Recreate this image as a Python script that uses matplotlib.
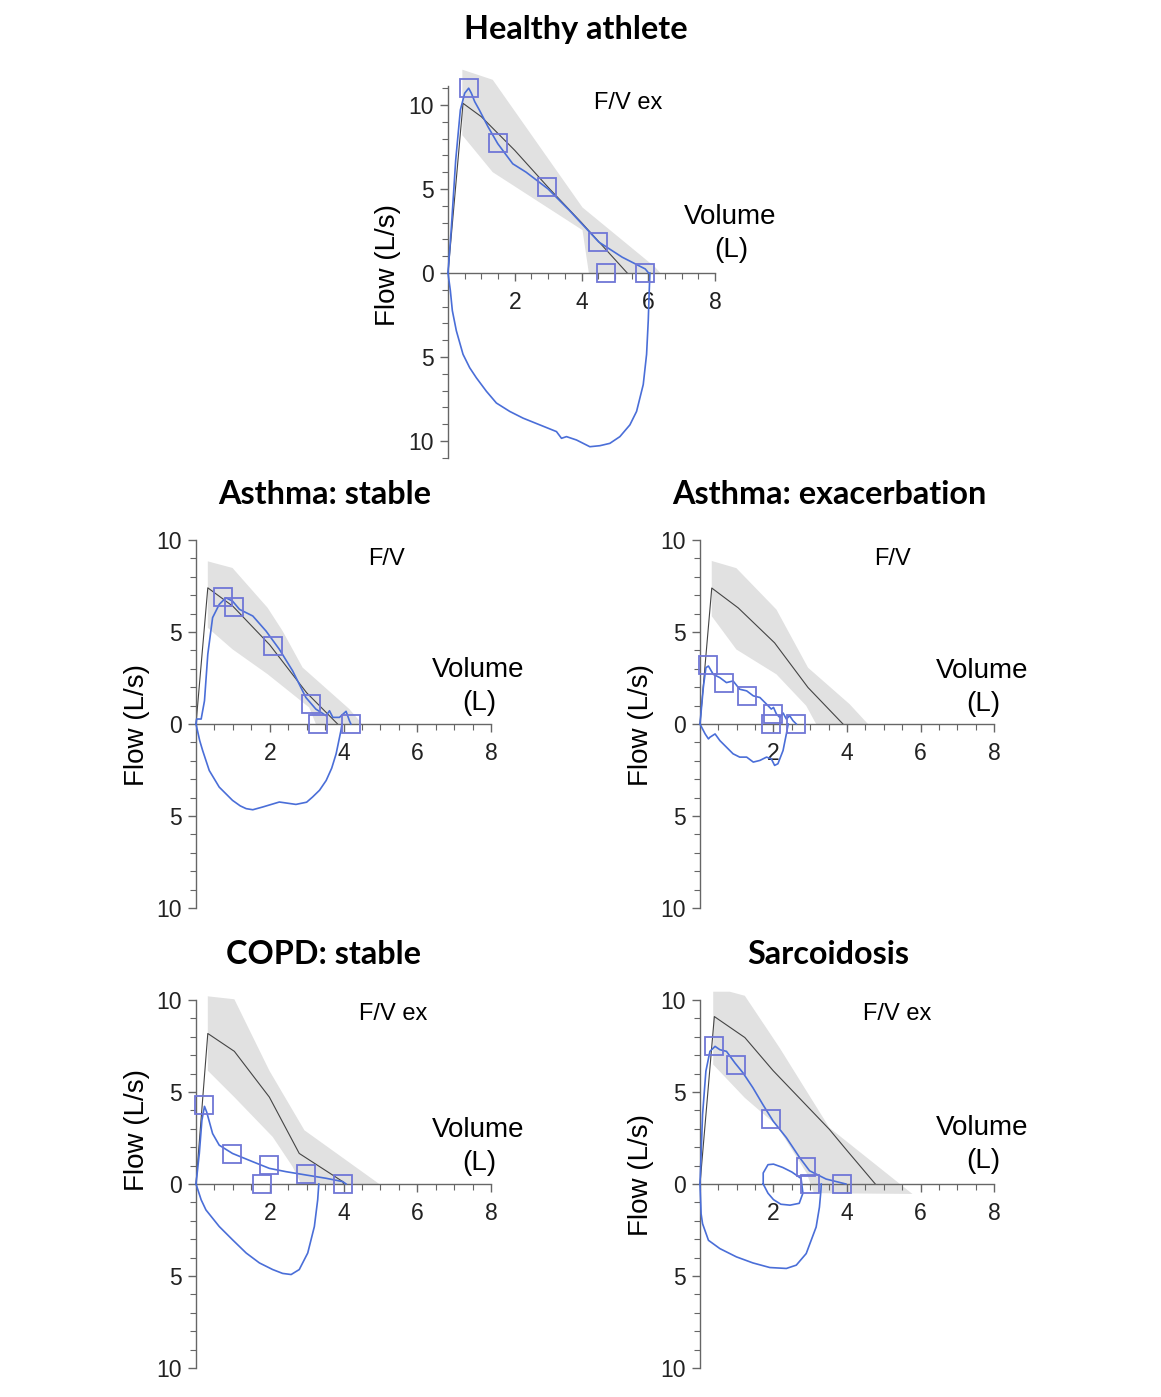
import matplotlib
matplotlib.use("Agg")
import matplotlib.pyplot as plt
from matplotlib.ticker import FixedLocator, MultipleLocator, FuncFormatter

W, H = 1161, 1397

# ---------------- DATA ----------------
titles = ["Healthy athlete", "Asthma: stable", "Asthma: exacerbation", "COPD: stable", "Sarcoidosis"]
notes = ["F/V ex", "F/V", "F/V", "F/V ex", "F/V ex"]
x_ticks = [2, 4, 6, 8]
y_ticks = [-10, -5, 0, 5, 10]

# Healthy athlete
p1_pred_v = [0, 0.45, 1.0, 1.5, 2.0, 3.0, 4.0, 4.5, 5.37]
p1_pred_f = [0, 10.1, 9.3, 8.3, 7.3, 5.1, 3.0, 1.9, 0]
p1_band_up_v = [0.43, 0.43, 1.34, 4.03, 6.21, 6.36]
p1_band_up_f = [8.2, 12.1, 11.5, 3.9, 0.34, 0]
p1_band_lo_v = [0.43, 1.34, 4.03, 4.22]
p1_band_lo_f = [8.2, 6.0, 2.55, 0]
p1_exp_v = [0, 0.1, 0.23, 0.37, 0.5, 0.62, 0.7, 0.8, 0.94, 1.2, 1.49, 1.94, 2.34, 3.0, 3.63, 4.52, 5.22, 5.91, 6.01]
p1_exp_f = [0, 2.7, 6.7, 9.7, 10.7, 11.0, 10.7, 10.2, 9.7, 8.7, 7.7, 6.5, 6.0, 5.0, 3.74, 1.84, 0.94, 0.24, 0]
p1_insp_v = [0, 0.07, 0.13, 0.25, 0.45, 0.65, 0.85, 1.15, 1.45, 1.85, 2.25, 2.75, 3.25, 3.4, 3.55, 3.85, 4.25, 4.55, 4.85, 5.15, 5.45, 5.65, 5.85, 5.95, 6.0, 6.03, 6.05]
p1_insp_f = [0, -1.04, -2.24, -3.44, -4.84, -5.64, -6.24, -7.04, -7.74, -8.24, -8.64, -9.04, -9.44, -9.84, -9.74, -9.94, -10.34, -10.28, -10.14, -9.74, -9.04, -8.24, -6.64, -4.84, -2.84, -1.04, 0]
p1_sq_v = [0.62, 1.49, 2.98, 4.5, 4.72, 5.91]
p1_sq_f = [11.04, 7.74, 5.1, 1.84, 0, 0]

# Asthma: stable
p2_pred_v = [0, 0.32, 1.0, 2.0, 3.0, 3.84]
p2_pred_f = [0, 7.4, 6.4, 4.3, 1.7, 0]
p2_band_up_v = [0.32, 0.32, 0.99, 1.94, 2.35, 2.89, 4.16, 4.43, 4.5]
p2_band_up_f = [5.23, 8.84, 8.48, 6.32, 5.05, 3.07, 0.81, 0.18, 0]
p2_band_lo_v = [0.32, 0.99, 1.94, 3.07, 3.25]
p2_band_lo_f = [5.23, 4.06, 2.71, 0.9, 0]
p2_exp_v = [0, 0.02, 0.14, 0.23, 0.32, 0.45, 0.63, 0.81, 0.99, 1.18, 1.54, 1.9, 2.26, 2.62, 2.98, 3.25, 3.53, 3.62, 3.71, 3.89, 4.07, 4.16, 4.2]
p2_exp_f = [0, 0.27, 0.27, 1.26, 3.79, 5.78, 6.5, 6.86, 6.68, 6.23, 5.87, 5.05, 4.06, 2.89, 1.44, 0.81, 0.45, 0.72, 0.36, 0.36, 0.69, 0.18, 0]
p2_insp_v = [0, 0.1, 0.18, 0.36, 0.63, 0.99, 1.2, 1.36, 1.54, 1.81, 2.26, 2.71, 3.0, 3.16, 3.35, 3.53, 3.68, 3.8, 3.93, 3.96]
p2_insp_f = [0, -0.9, -1.44, -2.53, -3.43, -4.15, -4.45, -4.6, -4.66, -4.51, -4.24, -4.37, -4.25, -3.97, -3.6, -3.07, -2.4, -1.62, -0.36, 0]
p2_sq_v = [0.74, 1.02, 2.08, 3.12, 3.3, 4.19]
p2_sq_f = [6.9, 6.35, 4.24, 1.08, 0, 0]

# Asthma: exacerbation
p3_pred_v = [0, 0.32, 1.04, 2.03, 2.94, 3.89]
p3_pred_f = [0, 7.39, 6.31, 4.41, 1.98, 0]
p3_band_up_v = [0.32, 0.32, 0.99, 2.08, 2.94, 4.07, 4.57]
p3_band_up_f = [5.86, 8.86, 8.47, 6.22, 3.06, 1.08, 0]
p3_band_lo_v = [0.32, 0.99, 2.08, 2.89, 3.16]
p3_band_lo_f = [5.86, 4.05, 2.7, 0.99, 0]
p3_exp_v = [0, 0.09, 0.16, 0.23, 0.36, 0.54, 0.72, 0.9, 1.08, 1.27, 1.45, 1.63, 1.81, 1.94, 2.0, 2.08, 2.17, 2.26, 2.35, 2.44, 2.53, 2.62]
p3_exp_f = [0, 1.98, 3.06, 3.15, 2.7, 2.52, 2.25, 2.34, 1.89, 1.8, 1.53, 1.44, 1.08, 0.81, 0.9, 0.54, 0.36, 0.6, 0.27, 0.45, 0.18, 0]
p3_insp_v = [0, 0.14, 0.23, 0.27, 0.41, 0.54, 0.72, 0.9, 1.08, 1.27, 1.45, 1.63, 1.81, 1.94, 2.03, 2.12, 2.26, 2.35, 2.4]
p3_insp_f = [0, -0.54, -0.81, -0.72, -0.54, -0.9, -1.26, -1.62, -1.8, -1.8, -2.07, -1.98, -1.8, -1.89, -2.25, -2.16, -1.44, -0.54, 0]
p3_sq_v = [0.23, 0.65, 1.28, 1.99, 1.94, 2.6]
p3_sq_f = [3.2, 2.25, 1.53, 0.54, 0, 0]

# COPD: stable
p4_pred_v = [0, 0.32, 1.04, 1.99, 2.8, 3.98, 4.0]
p4_pred_f = [0, 8.18, 7.21, 4.72, 1.66, 0.13, 0]
p4_band_up_v = [0.32, 0.32, 1.04, 1.99, 2.94, 4.97]
p4_band_up_f = [6.16, 10.2, 10.04, 6.16, 2.92, 0]
p4_band_lo_v = [0.32, 1.04, 2.08, 2.62, 2.85]
p4_band_lo_f = [6.16, 4.72, 2.56, 0.94, 0]
p4_exp_v = [0, 0.09, 0.16, 0.23, 0.29, 0.45, 0.63, 0.99, 1.54, 1.99, 2.44, 2.98, 3.53, 3.98, 4.07]
p4_exp_f = [0, 1.66, 3.46, 4.22, 3.91, 2.74, 2.11, 1.66, 1.21, 0.85, 0.67, 0.49, 0.31, 0.13, 0]
p4_insp_v = [0, 0.14, 0.27, 0.63, 0.99, 1.36, 1.72, 2.08, 2.35, 2.58, 2.8, 3.03, 3.21, 3.3, 3.33]
p4_insp_f = [0, -0.86, -1.41, -2.31, -3.03, -3.75, -4.29, -4.65, -4.86, -4.92, -4.65, -3.75, -2.31, -0.86, 0]
p4_sq_v = [0.23, 0.98, 1.99, 1.78, 2.98, 3.98]
p4_sq_f = [4.27, 1.62, 1.03, 0, 0.52, 0]

# Sarcoidosis
p5_pred_v = [0, 0.39, 1.22, 1.99, 3.52, 3.97, 4.77]
p5_pred_f = [0, 9.1, 7.96, 6.16, 2.97, 1.89, 0]
p5_band_up_v = [0.36, 0.36, 0.81, 1.22, 2.17, 3.52, 5.78]
p5_band_up_f = [6.49, 10.45, 10.45, 10.23, 7.39, 3.06, -0.54]
p5_band_lo_v = [0.36, 1.22, 2.08, 2.9, 3.1, 5.78]
p5_band_lo_f = [6.49, 4.68, 3.2, 0.6, -0.5, -0.54]
p5_exp_v = [0, 0.07, 0.16, 0.27, 0.41, 0.54, 0.72, 0.95, 1.17, 1.44, 1.71, 1.99, 2.35, 2.71, 2.98, 3.43, 3.79, 3.97]
p5_exp_f = [0, 3.78, 6.13, 7.21, 7.48, 7.3, 7.21, 6.58, 6.04, 5.23, 4.32, 3.42, 2.52, 1.44, 0.72, 0.27, 0.09, 0]
p5_insp_v = [0, 0.03, 0.07, 0.23, 0.54, 0.99, 1.44, 1.9, 2.35, 2.62, 2.89, 3.16, 3.25, 3.29, 3.3]
p5_insp_f = [0, -1.62, -2.16, -3.06, -3.51, -3.96, -4.29, -4.54, -4.59, -4.41, -3.78, -2.34, -1.26, -0.36, 0]
p5_loop_v = [1.72, 1.72, 1.85, 2.0, 2.25, 2.5, 2.75, 2.8, 2.7, 2.45, 2.2, 2.0, 1.85, 1.72]
p5_loop_f = [0.0, 0.6, 1.05, 1.08, 0.9, 0.65, 0.3, -0.5, -1.05, -1.15, -1.1, -0.85, -0.5, 0.0]
p5_sq_v = [0.39, 0.97, 1.94, 2.89, 3.0, 3.86]
p5_sq_f = [7.48, 6.49, 3.51, 0.94, 0, 0]

panels = [
    dict(pred=(p1_pred_v, p1_pred_f), up=(p1_band_up_v, p1_band_up_f), lo=(p1_band_lo_v, p1_band_lo_f),
         curves=[(p1_exp_v, p1_exp_f), (p1_insp_v, p1_insp_f)], sq=(p1_sq_v, p1_sq_f)),
    dict(pred=(p2_pred_v, p2_pred_f), up=(p2_band_up_v, p2_band_up_f), lo=(p2_band_lo_v, p2_band_lo_f),
         curves=[(p2_exp_v, p2_exp_f), (p2_insp_v, p2_insp_f)], sq=(p2_sq_v, p2_sq_f)),
    dict(pred=(p3_pred_v, p3_pred_f), up=(p3_band_up_v, p3_band_up_f), lo=(p3_band_lo_v, p3_band_lo_f),
         curves=[(p3_exp_v, p3_exp_f), (p3_insp_v, p3_insp_f)], sq=(p3_sq_v, p3_sq_f)),
    dict(pred=(p4_pred_v, p4_pred_f), up=(p4_band_up_v, p4_band_up_f), lo=(p4_band_lo_v, p4_band_lo_f),
         curves=[(p4_exp_v, p4_exp_f), (p4_insp_v, p4_insp_f)], sq=(p4_sq_v, p4_sq_f)),
    dict(pred=(p5_pred_v, p5_pred_f), up=(p5_band_up_v, p5_band_up_f), lo=(p5_band_lo_v, p5_band_lo_f),
         curves=[(p5_exp_v, p5_exp_f), (p5_insp_v, p5_insp_f), (p5_loop_v, p5_loop_f)], sq=(p5_sq_v, p5_sq_f)),
]

# ---------------- LAYOUT (pixels) ----------------
boxes = [
    (448, 715, 86.5, 457.8, (-11.0, 11.1)),
    (196, 491, 540, 908, (-10, 10)),
    (700, 994, 540, 908, (-10, 10)),
    (196, 491, 1000, 1368, (-10, 10)),
    (700, 994, 1000, 1368, (-10, 10)),
]
title_pos = [(576, 30), (325, 495), (829, 495), (324, 955), (828, 955)]
ylabel_pos = [(388, 265), (137, 725), (641, 725), (137, 1130), (641, 1175)]
vol_pos = [(730, 217), (478, 670), (982, 671), (478, 1130), (982, 1128)]
note_pos = [(628, 103), (387, 559), (892, 559), (393, 1014), (897, 1014)]

plt.rcParams['font.family'] = ['Liberation Sans', 'DejaVu Sans']

fig = plt.figure(figsize=(W / 100, H / 100), dpi=100)

BLUE = '#4a6ed8'
SQ = '#6f76d6'
BAND = '#e1e1e1'
AX = '#666666'

def fx(px):
    return px / W

def fy(py):
    return 1 - py / H

for i, (pan, box) in enumerate(zip(panels, boxes)):
    x0, x8, yt, yb, ylim = box
    ax = fig.add_axes([fx(x0), fy(yb), (x8 - x0) / W, (yb - yt) / H])
    ax.set_xlim(0, 8)
    ax.set_ylim(*ylim)
    ax.patch.set_alpha(0)
    for s in ['top', 'right']:
        ax.spines[s].set_visible(False)
    ax.spines['bottom'].set_position(('data', 0))
    ax.spines['left'].set_color(AX)
    ax.spines['bottom'].set_color(AX)
    ax.spines['left'].set_linewidth(1.0)
    ax.spines['bottom'].set_linewidth(1.0)

    ax.xaxis.set_major_locator(FixedLocator(x_ticks))
    ax.xaxis.set_minor_locator(MultipleLocator(0.5))
    ax.yaxis.set_major_locator(FixedLocator(y_ticks))
    ax.yaxis.set_minor_locator(MultipleLocator(1))
    ax.yaxis.set_major_formatter(FuncFormatter(lambda v, p: f"{abs(v):g}"))
    ax.tick_params(axis='both', which='major', length=6, width=1, color=AX, labelsize=16.5,
                   direction='out', labelcolor='#222222')
    ax.tick_params(axis='both', which='minor', length=4, width=0.8, color=AX, direction='out')
    ax.tick_params(axis='x', which='major', pad=7)
    ax.tick_params(axis='y', which='major', pad=4)

    # band
    uv, uf = pan['up']
    lv, lf = pan['lo']
    bx = list(uv) + list(lv[::-1])
    by = list(uf) + list(lf[::-1])
    ax.fill(bx, by, color=BAND, lw=0, zorder=1, clip_on=False)
    # predicted
    ax.plot(*pan['pred'], color='#444444', lw=0.8, zorder=2, clip_on=False)
    # measured
    for cv, cf in pan['curves']:
        ax.plot(cv, cf, color=BLUE, lw=1.2, zorder=3, clip_on=False)
    # squares
    sv, sf = pan['sq']
    ax.plot(sv, sf, ls='none', marker='s', ms=13, mfc='none', mec=SQ, mew=1.3, zorder=4, clip_on=False)

    # texts
    tx, ty = title_pos[i]
    fig.text(fx(tx), fy(ty), titles[i], ha='center', va='center', fontsize=23.3,
             fontweight='bold', family=['Lato', 'DejaVu Sans'])
    lx, ly = ylabel_pos[i]
    fig.text(fx(lx), fy(ly), "Flow (L/s)", ha='center', va='center', rotation=90, fontsize=20)
    vx, vy = vol_pos[i]
    fig.text(fx(vx), fy(vy), "Volume", ha='center', va='center', fontsize=20)
    fig.text(fx(vx + 1), fy(vy + 33), "(L)", ha='center', va='center', fontsize=20)
    nx, ny = note_pos[i]
    fig.text(fx(nx), fy(ny), notes[i], ha='center', va='center', fontsize=17)

fig.savefig("out.png", dpi=100)
